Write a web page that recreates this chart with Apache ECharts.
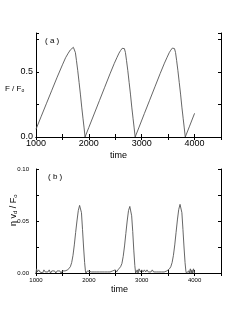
<!DOCTYPE html>
<html>
<head>
<meta charset="utf-8">
<script src="https://cdn.jsdelivr.net/npm/echarts@6/dist/echarts.min.js"></script>
<style>
html,body{margin:0;padding:0;background:#fff;}
#c{width:245px;height:321px;}
</style>
</head>
<body>
<div id="c"></div>
<script>
// Panel (a): F / F0 versus time
var timeA = [1000,1100,1200,1300,1400,1500,1560,1610,1650,1680,1707,1725,1745,1765,1790,1815,1840,1865,1890,1910,1928,
  2000,2100,2200,2300,2400,2480,2530,2570,2600,2630,2654,2672,2692,2712,2737,2762,2787,2812,2837,2857,2876,
  2950,3050,3150,3250,3350,3430,3480,3520,3550,3580,3602,3620,3640,3660,3685,3710,3735,3760,3785,3805,3824,
  3900,4000];
var forceA = [0.06,0.16,0.26,0.36,0.46,0.555,0.61,0.645,0.67,0.685,0.69,0.68,0.65,0.59,0.51,0.42,0.33,0.23,0.14,0.07,0.0,
  0.074,0.177,0.28,0.383,0.486,0.565,0.61,0.645,0.665,0.682,0.688,0.68,0.65,0.59,0.51,0.42,0.33,0.23,0.14,0.07,0.0,
  0.076,0.18,0.283,0.386,0.489,0.568,0.613,0.648,0.668,0.684,0.69,0.68,0.65,0.59,0.51,0.42,0.33,0.23,0.14,0.07,0.0,
  0.078,0.182];

// Panel (b): eta v_d / F0 versus time
var timeB = [1000,1010,1025,1050,1075,1100,1125,1150,1175,1200,1225,1250,1275,1300,1325,1350,1375,1400,1425,1450,1475,1500,1525,1550,1575,1600,
  1625,1650,1675,1700,1725,1750,1775,1800,1825,1840,1860,1880,1900,1920,1935,1945,
  1960,1975,1990,2050,2100,2150,2200,2250,2300,2350,2400,2450,2475,2500,2525,2550,2575,2600,
  2625,2650,2675,2700,2725,2750,2775,2790,2810,2830,2850,2870,2885,
  2900,2915,2930,2950,2975,3000,3025,3050,3075,3100,3125,3150,3175,3200,3225,3250,3275,3300,3325,3350,3375,3400,3425,3450,3475,3500,
  3525,3550,3575,3600,3625,3650,3675,3700,3725,3740,3760,3780,3800,3820,3835,3845,
  3870,3890,3900,3920,3935,3950,3965,3980,4000];
var etaB = [0.000,0.004,0.001,0.003,0.001,0.002,0.000,0.003,0.001,0.002,0.001,0.003,0.000,0.002,0.001,0.002,0.000,0.002,0.001,0.002,0.000,0.002,0.001,0.002,0.002,0.003,
  0.004,0.006,0.010,0.017,0.027,0.039,0.050,0.060,0.065,0.065,0.058,0.042,0.025,0.010,0.002,0.000,
  0.000,0.002,0.001,0.001,0.001,0.001,0.001,0.001,0.001,0.001,0.001,0.002,0.001,0.003,0.001,0.003,0.004,0.006,
  0.009,0.016,0.026,0.038,0.050,0.060,0.064,0.063,0.055,0.040,0.022,0.007,0.000,
  0.000,0.003,0.000,0.004,0.001,0.003,0.001,0.003,0.001,0.003,0.001,0.002,0.001,0.003,0.001,0.002,0.001,0.002,0.001,0.002,0.001,0.002,0.001,0.002,0.002,0.003,
  0.004,0.006,0.010,0.017,0.027,0.039,0.051,0.061,0.066,0.065,0.058,0.042,0.025,0.010,0.002,0.000,
  0.000,0.002,0.000,0.004,0.000,0.003,0.000,0.004,0.000];

var yTicksA = [0, 0.5];
var yTicksB = [0, 0.05, 0.1];
var xTicks = [1000, 2000, 3000, 4000];

function pairs(xs, ys){ return xs.map(function(x,i){ return [x, ys[i]]; }); }

var FONT = '"Liberation Sans", Arial, sans-serif';
var axisLine = {show:true, lineStyle:{color:'#000', width:1}};
function xAx(grid, pos, labels, fs, margin){
  return {type:'value', gridIndex:grid, position:pos, min:1000, max:4500, interval:500,
    axisLine:axisLine, axisTick:{show:true, inside:true, length:3, lineStyle:{color:'#000'}},
    splitLine:{show:false},
    axisLabel:{show:labels, fontSize:fs, color:'#000', fontFamily:FONT, margin:margin,
      formatter:function(v){ return xTicks.indexOf(v) >= 0 ? String(v) : ''; }}};
}
function yAx(grid, pos, labels, max, interval, fs, margin, ticks, dec){
  return {type:'value', gridIndex:grid, position:pos, min:0, max:max, interval:interval,
    axisLine:axisLine, axisTick:{show:true, inside:true, length:3, lineStyle:{color:'#000'}},
    splitLine:{show:false},
    axisLabel:{show:labels, fontSize:fs, color:'#000', fontFamily:FONT, margin:margin, showMaxLabel:true,
      formatter:function(v){
        for (var i=0;i<ticks.length;i++){ if (Math.abs(v-ticks[i])<1e-9) return v.toFixed(dec); }
        return '';
      }}};
}

var chart = echarts.init(document.getElementById('c'), null, {renderer:'canvas'});
chart.setOption({
  animation:false,
  backgroundColor:'#fff',
  grid:[
    {left:36, top:33, width:185, height:104},
    {left:36, top:169, width:185, height:104}
  ],
  xAxis:[
    xAx(0,'bottom',true,9,2),
    xAx(0,'top',false,9,2),
    xAx(1,'bottom',true,6,4),
    xAx(1,'top',false,6,4)
  ],
  yAxis:[
    yAx(0,'left',true,0.8,0.25,9,3,yTicksA,1),
    yAx(0,'right',false,0.8,0.25,9,3,yTicksA,1),
    yAx(1,'left',true,0.1,0.025,6,7,yTicksB,2),
    yAx(1,'right',false,0.1,0.025,6,7,yTicksB,2)
  ],
  series:[
    {type:'line', xAxisIndex:0, yAxisIndex:0, data:pairs(timeA, forceA), showSymbol:false,
      lineStyle:{color:'#555', width:0.9}},
    {type:'line', xAxisIndex:2, yAxisIndex:2, data:pairs(timeB, etaB), showSymbol:false,
      lineStyle:{color:'#555', width:0.9}}
  ],
  graphic:[
    {type:'text', left:45, top:37, style:{text:'( a )', font:'8px '+FONT, fill:'#000'}},
    {type:'text', left:48, top:173, style:{text:'( b )', font:'8px '+FONT, fill:'#000'}},
    {type:'text', left:110, top:151, style:{text:'time', font:'9px '+FONT, fill:'#000'}},
    {type:'text', left:111, top:285, style:{text:'time', font:'9px '+FONT, fill:'#000'}},
    {type:'text', left:5, top:85, style:{text:'F / F{s|o}', font:'8px '+FONT, fill:'#000',
      rich:{s:{fontSize:5, fontFamily:'"Liberation Sans", Arial, sans-serif', padding:[3,0,0,0]}}}},
    {type:'text', x:9, y:226, rotation:Math.PI/2,
      style:{text:'η v{s|d} / F{s|o}', font:'9px '+FONT, fill:'#000',
      rich:{s:{fontSize:6, fontFamily:'"Liberation Sans", Arial, sans-serif', padding:[3,0,0,0]}}}}
  ]
});
</script>
</body>
</html>
